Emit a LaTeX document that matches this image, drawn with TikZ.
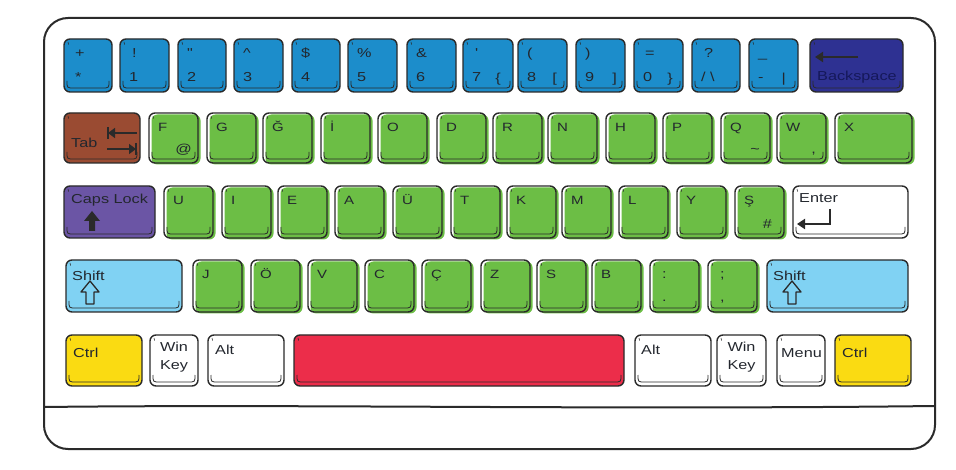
\documentclass[tikz,border=0pt]{standalone}
\usepackage{fontspec}
\newfontfamily\kf[FakeStretch=1.25]{Liberation Sans}
\usetikzlibrary{arrows.meta}
\definecolor{blu}{HTML}{1C8DCB}
\definecolor{bks}{HTML}{2E3192}
\definecolor{tabc}{HTML}{9A4B32}
\definecolor{grn}{HTML}{6CBE45}
\definecolor{capc}{HTML}{6B55A5}
\definecolor{shf}{HTML}{80D2F3}
\definecolor{ylw}{HTML}{FADB12}
\definecolor{spc}{HTML}{EC2D4A}
\definecolor{ink}{HTML}{2A2A2A}
\definecolor{txt}{HTML}{23272E}
\definecolor{navy}{HTML}{15185A}
\tikzset{
 key/.style={draw=ink, line width=1.4pt, rounded corners=6pt, anchor=north west, inner sep=0pt, outer sep=0pt},
 gkey/.style={key, preaction={fill=grn, transform canvas={xshift=2.5pt, yshift=-1.5pt}}},
 bevel/.style={draw=ink, line width=0.8pt},
 keytick/.style={draw=ink, line width=0.6pt},
 lab/.style={font=\kf\fontsize{13}{15}\selectfont, text=txt, inner sep=0pt},
 ltr/.style={font=\kf\fontsize{12}{14}\selectfont, text=txt, inner sep=0pt},
 board/.style={draw=ink, line width=2pt},
 sym/.style={draw=ink, line width=2.2pt},
 symhead/.style={-{Triangle[length=8pt,width=10pt]}},
}
\newcommand\Key[6][]{%
 \node[key,#1,minimum width=#5pt,minimum height=#6pt] (#2) at (#3,#4) {};
 \draw[bevel] ([shift={(3,-11)}]#2.south west) .. controls ([shift={(3,-4)}]#2.south west) .. ([shift={(10,-4)}]#2.south west) -- ([shift={(-10,-4)}]#2.south east) .. controls ([shift={(-3,-4)}]#2.south east) .. ([shift={(-3,-11)}]#2.south east);
 \draw[keytick] ([shift={(4,3)}]#2.north west) -- ++(0.6,2.5);
}
\newcommand\TL[3][9]{\node[lab,anchor=base west] (#2-t) at ([shift={(#1,19)}]#2.north west) {#3};}
\newcommand\LT[2]{\node[ltr,anchor=base west] (#1-t) at ([shift={(9,19)}]#1.north west) {#2};}
\newcommand\BL[3][9]{\node[lab,anchor=base west] (#2-b) at ([shift={(#1,-10)}]#2.south west) {#3};}
\newcommand\BR[3][10]{\node[lab,anchor=base east] (#2-r) at ([shift={(-#1,-9)}]#2.south east) {#3};}
\newcommand\GK[3]{\Key[gkey]{#1}{#2}{#3}{49}{\rowh}}
\begin{document}
\begin{tikzpicture}[x=1pt,y=-1pt]
\useasboundingbox (0,0) rectangle (956,470);
% keyboard body
\draw[board, rounded corners=24pt] (44,18) rectangle (935,449);
\draw[board] (44,407) .. controls (300,404) and (600,410) .. (935,406);

% ---- row 1
\Key[fill=blu]{k0}{64}{39}{48}{53}  \TL[11]{k0}{+} \BL[11]{k0}{*}
\Key[fill=blu]{k1}{120}{39}{49}{53} \TL[12]{k1}{!} \BL{k1}{1}
\Key[fill=blu]{k2}{178}{39}{48}{53} \TL{k2}{"} \BL{k2}{2}
\Key[fill=blu]{k3}{234}{39}{49}{53} \TL{k3}{\textasciicircum} \BL{k3}{3}
\Key[fill=blu]{k4}{292}{39}{48}{53} \TL{k4}{\$} \BL{k4}{4}
\Key[fill=blu]{k5}{348}{39}{49}{53} \TL{k5}{\%} \BL{k5}{5}
\Key[fill=blu]{k6}{407}{39}{49}{53} \TL{k6}{\&} \BL{k6}{6}
\Key[fill=blu]{k7}{463}{39}{50}{53} \TL[12]{k7}{\textquotesingle} \BL{k7}{7} \BR[12]{k7}{\{}
\Key[fill=blu]{k8}{518}{39}{49}{53} \TL{k8}{(} \BL{k8}{8} \BR{k8}{[}
\Key[fill=blu]{k9}{576}{39}{49}{53} \TL{k9}{)} \BL{k9}{9} \BR[8]{k9}{]}
\Key[fill=blu]{k10}{634}{39}{49}{53} \TL[11]{k10}{=} \BL{k10}{0} \BR{k10}{\}}
\Key[fill=blu]{k11}{692}{39}{48}{53} \TL[12]{k11}{?} \BL{k11}{/ \textbackslash}
\Key[fill=blu]{k12}{749}{39}{49}{53} \TL{k12}{\_} \BL{k12}{-} \BR[12]{k12}{|}
\Key[fill=bks]{bk}{810}{39}{93}{53}
\node[lab,text=navy,anchor=base west] (bk-b) at ([shift={(7,-11)}]bk.south west) {Backspace};
\coordinate (bkA) at ([shift={(48,18)}]bk.north west);
\coordinate (bkB) at ([shift={(5,18)}]bk.north west);
\draw[sym,symhead] (bkA) -- (bkB);

% ---- row 2
\def\rowh{50}
\Key[fill=tabc]{tab}{64}{113}{76}{50}
\node[lab,anchor=base west] (tab-t) at ([shift={(7,35)}]tab.north west) {Tab};
\coordinate (taA) at ([shift={(73,20)}]tab.north west);
\coordinate (taB) at ([shift={(44,20)}]tab.north west);
\draw[sym,line width=2pt,-{Triangle[length=7pt,width=10pt]}] (taA) -- (taB);
\draw[sym,line width=2pt] ([shift={(44,14)}]tab.north west) -- ([shift={(44,26)}]tab.north west);
\coordinate (tbA) at ([shift={(43,36)}]tab.north west);
\coordinate (tbB) at ([shift={(72,36)}]tab.north west);
\draw[sym,line width=2pt,-{Triangle[length=7pt,width=10pt]}] (tbA) -- (tbB);
\draw[sym,line width=2pt] ([shift={(72,30)}]tab.north west) -- ([shift={(72,42)}]tab.north west);
\GK{rF}{149}{113} \LT{rF}{F} \BR[6]{rF}{@}
\GK{rG}{207}{113} \LT{rG}{G}
\GK{rGb}{263}{113} \LT{rGb}{Ğ}
\GK{rId}{321}{113} \LT{rId}{İ}
\GK{rO}{378}{113} \LT{rO}{O}
\GK{rD}{437}{113} \LT{rD}{D}
\GK{rR}{493}{113} \LT{rR}{R}
\GK{rN}{548}{113} \LT{rN}{N}
\GK{rH}{606}{113} \LT{rH}{H}
\GK{rP}{663}{113} \LT{rP}{P}
\GK{rQ}{721}{113} \LT{rQ}{Q} \BR{rQ}{\textasciitilde}
\GK{rW}{777}{113} \LT{rW}{W} \BR{rW}{,}
\Key[gkey]{rX}{835}{113}{77}{50} \LT{rX}{X}

% ---- row 3
\def\rowh{52}
\Key[fill=capc]{caps}{64}{186}{91}{52}
\node[lab,anchor=base west] (caps-t) at ([shift={(7,18)}]caps.north west) {Caps Lock};
\fill[ink] ([shift={(28,25)}]caps.north west) -- ++(8,10) -- ++(-5,0) -- ++(0,10) -- ++(-6,0) -- ++(0,-10) -- ++(-5,0) -- cycle;
\GK{aU}{164}{186} \LT{aU}{U}
\GK{aI}{222}{186} \LT{aI}{I}
\GK{aE}{278}{186} \LT{aE}{E}
\GK{aA}{335}{186} \LT{aA}{A}
\GK{aUu}{393}{186} \LT{aUu}{Ü}
\GK{aT}{451}{186} \LT{aT}{T}
\GK{aK}{507}{186} \LT{aK}{K}
\GK{aM}{562}{186} \LT{aM}{M}
\GK{aL}{619}{186} \LT{aL}{L}
\GK{aY}{677}{186} \LT{aY}{Y}
\GK{aS}{735}{186} \LT{aS}{Ş} \BR[12]{aS}{\#}
\Key{ent}{793}{186}{115}{52}
\node[lab,anchor=base west] (ent-t) at ([shift={(6,17)}]ent.north west) {Enter};
\coordinate (enA) at ([shift={(37,23)}]ent.north west);
\coordinate (enB) at ([shift={(37,38)}]ent.north west);
\coordinate (enC) at ([shift={(4,38)}]ent.north west);
\draw[sym,symhead,line join=miter] (enA) -- (enB) -- (enC);

% ---- row 4
\Key[fill=shf]{sl}{66}{260}{116}{52}
\node[lab,anchor=base west] (sl-t) at ([shift={(6,21)}]sl.north west) {Shift};
\draw[ink,line width=1.3pt,line join=round] ([shift={(24,21)}]sl.north west) -- ++(9,11) -- ++(-5,0) -- ++(0,12) -- ++(-8,0) -- ++(0,-12) -- ++(-5,0) -- cycle;
\GK{zJ}{193}{260} \LT{zJ}{J}
\GK{zO}{251}{260} \LT{zO}{Ö}
\GK{zV}{308}{260} \LT{zV}{V}
\GK{zC}{365}{260} \LT{zC}{C}
\GK{zCc}{422}{260} \LT{zCc}{Ç}
\GK{zZ}{481}{260} \LT{zZ}{Z}
\GK{zS}{537}{260} \LT{zS}{S}
\GK{zB}{592}{260} \LT{zB}{B}
\GK{zDot}{650}{260} \TL[12]{zDot}{:} \BL[12]{zDot}{.}
\GK{zCom}{708}{260} \TL[12]{zCom}{;} \BL[12]{zCom}{,}
\Key[fill=shf]{sr}{767}{260}{141}{52}
\node[lab,anchor=base west] (sr-t) at ([shift={(6,21)}]sr.north west) {Shift};
\draw[ink,line width=1.3pt,line join=round] ([shift={(25,21)}]sr.north west) -- ++(9,11) -- ++(-5,0) -- ++(0,12) -- ++(-8,0) -- ++(0,-12) -- ++(-5,0) -- cycle;

% ---- row 5
\Key[fill=ylw]{cl}{66}{335}{76}{51}
\node[lab,anchor=base west] (cl-t) at ([shift={(7,22)}]cl.north west) {Ctrl};
\Key{wl}{150}{335}{48}{51}
\node[lab,anchor=base] (wl-t) at ([shift={(0,17)}]wl.north) {Win};
\node[lab,anchor=base] (wl-b) at ([shift={(0,35)}]wl.north) {Key};
\Key{al}{208}{335}{76}{51}
\node[lab,anchor=base west] (al-t) at ([shift={(7,20)}]al.north west) {Alt};
\Key[fill=spc]{sp}{294}{335}{330}{51}
\Key{ar}{635}{335}{76}{51}
\node[lab,anchor=base west] (ar-t) at ([shift={(6,20)}]ar.north west) {Alt};
\Key{wr}{717}{335}{49}{51}
\node[lab,anchor=base] (wr-t) at ([shift={(0,17)}]wr.north) {Win};
\node[lab,anchor=base] (wr-b) at ([shift={(0,35)}]wr.north) {Key};
\Key{mn}{777}{335}{48}{51}
\node[lab,anchor=base west] (mn-t) at ([shift={(4,22)}]mn.north west) {Menu};
\Key[fill=ylw]{cr}{835}{335}{76}{51}
\node[lab,anchor=base west] (cr-t) at ([shift={(7,22)}]cr.north west) {Ctrl};
\end{tikzpicture}
\end{document}
